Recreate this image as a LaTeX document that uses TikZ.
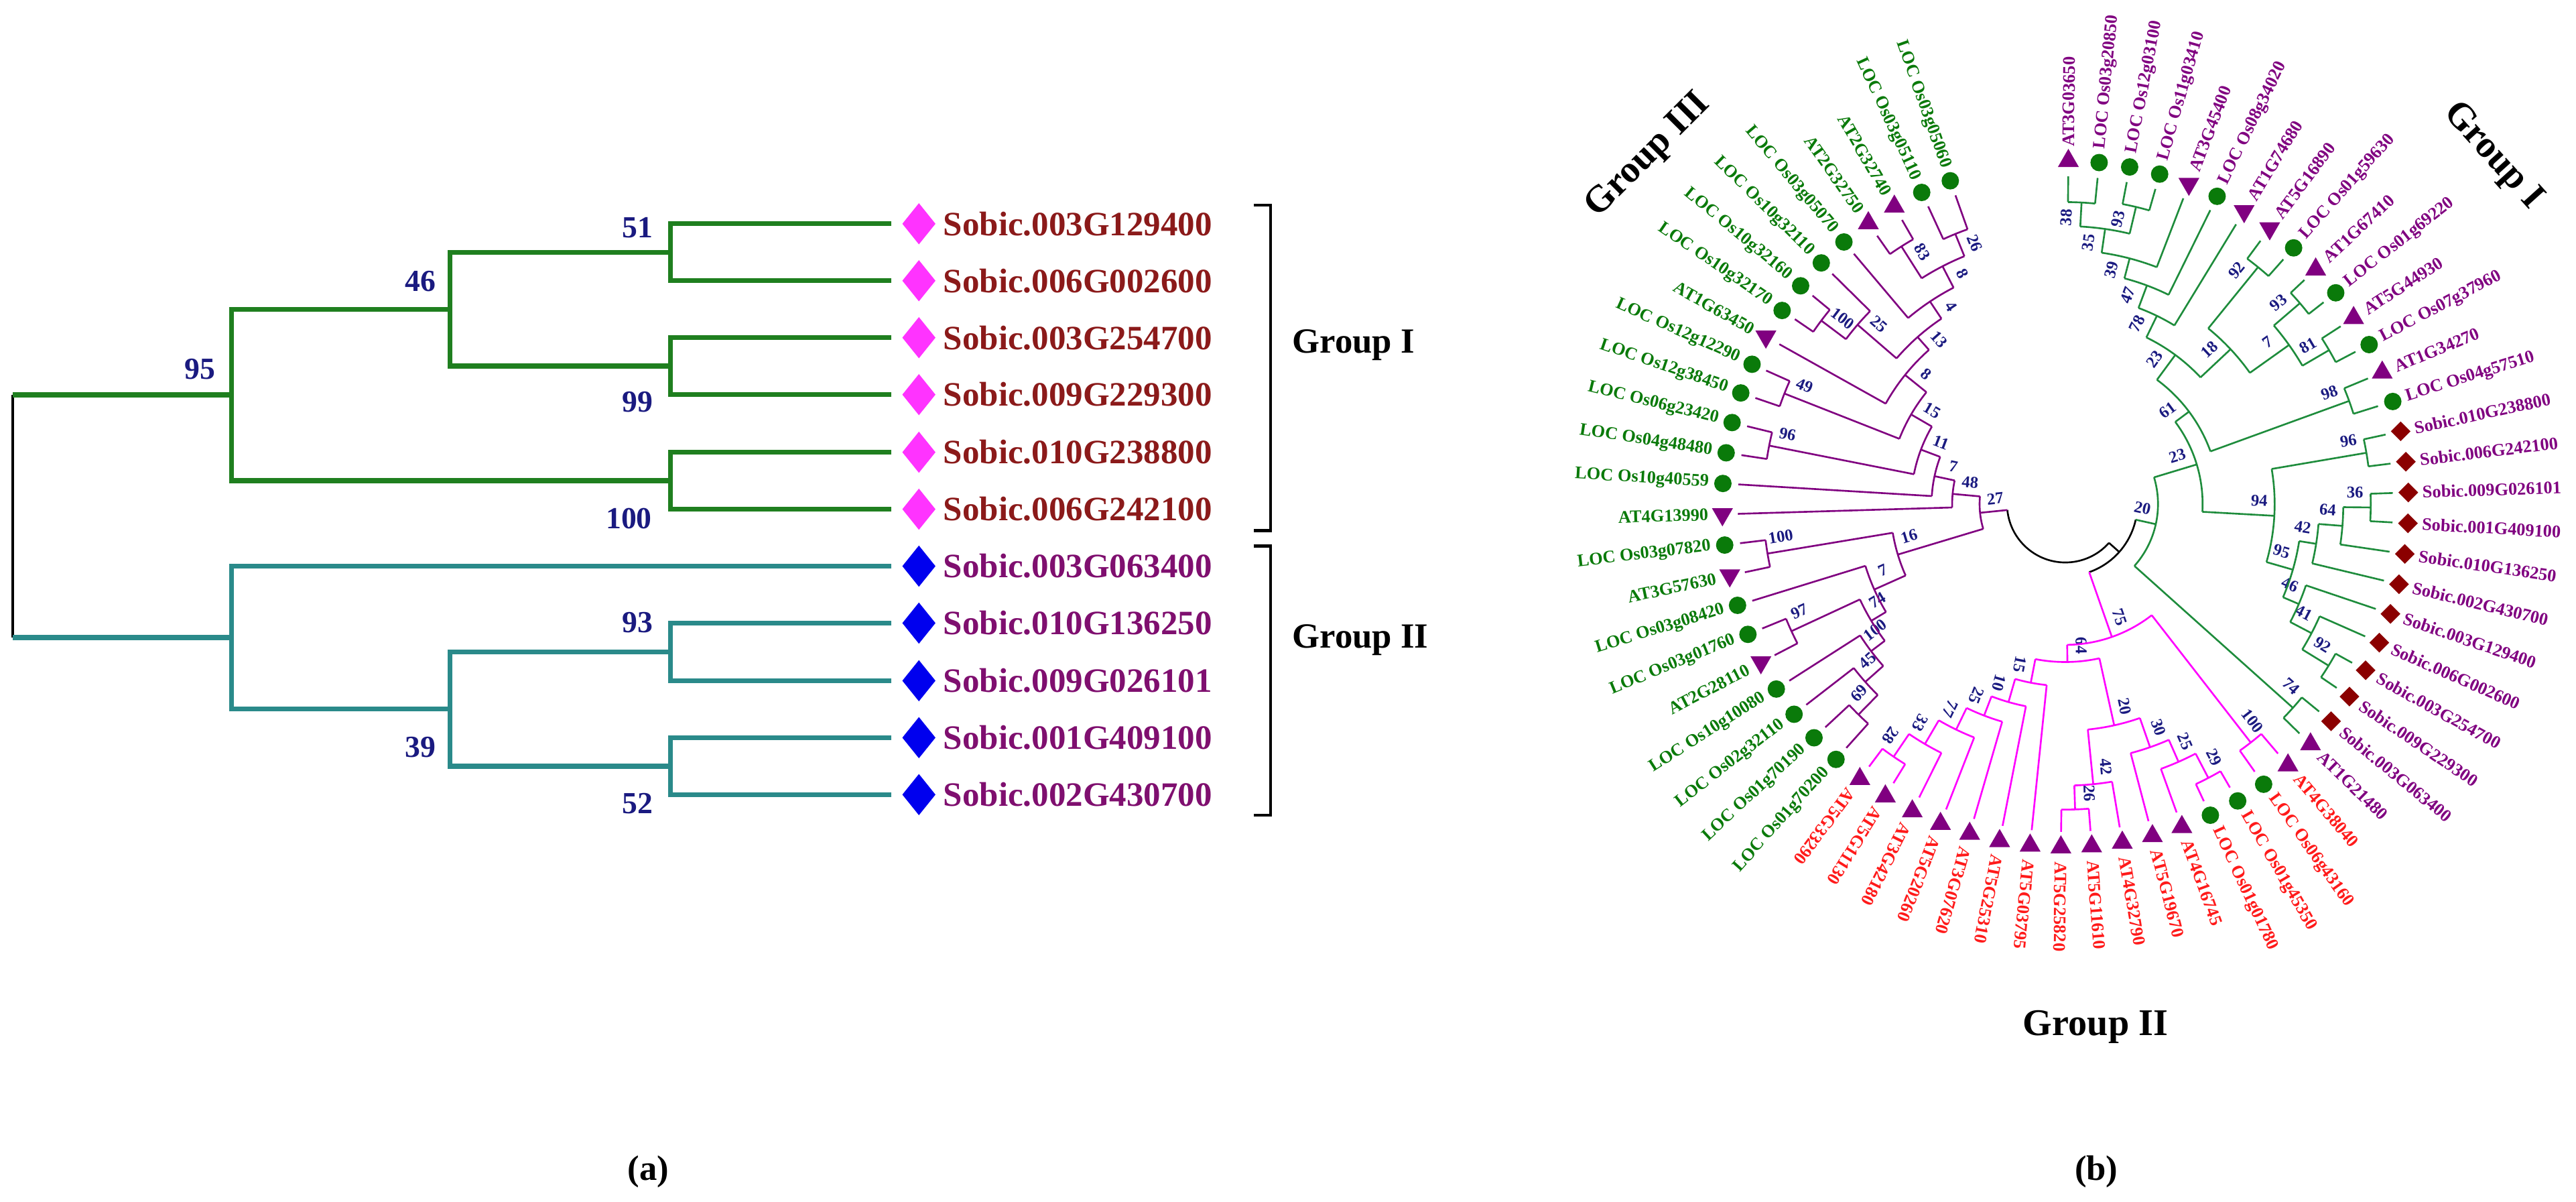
\documentclass[tikz,border=0pt]{standalone}
\usepackage{fontspec}
\setmainfont{Liberation Serif}
\usetikzlibrary{shapes.geometric}
\definecolor{agreen}{HTML}{1F7F1F}
\definecolor{ateal}{HTML}{2A8A8A}
\definecolor{amag}{HTML}{FF33FF}
\definecolor{ablue}{HTML}{0000EE}
\definecolor{alabA}{HTML}{8B1A1A}
\definecolor{alabB}{HTML}{7F0F6F}
\definecolor{bnavy}{HTML}{1A1A80}
\definecolor{grn}{HTML}{0A7A0A}
\definecolor{grnl}{HTML}{1E8C3C}
\definecolor{pur}{HTML}{800080}
\definecolor{pnk}{HTML}{FF00FF}
\definecolor{rd}{HTML}{FF1A1A}
\definecolor{dred}{HTML}{8B0000}
\tikzset{
 athick/.style={line width=2.1pt},
 agr/.style={athick,draw=agreen},
 atl/.style={athick,draw=ateal},
 ablk/.style={line width=1pt,draw=black},
 adia/.style={diamond,inner sep=0pt,minimum width=0.5cm,minimum height=0.62cm},
 alab/.style={font=\bfseries\fontsize{14.5}{15}\selectfont,anchor=west,inner sep=0pt},
 abs/.style={font=\bfseries\fontsize{13}{14}\selectfont,text=bnavy,inner sep=0pt},
 grp/.style={font=\bfseries\fontsize{15}{16}\selectfont,inner sep=0pt},
 bgrp/.style={font=\bfseries\fontsize{16}{17}\selectfont,inner sep=0pt},
 bracket/.style={line width=1.2pt,draw=black},
 gb/.style={line width=0.75pt,draw=grnl},
 pu/.style={line width=0.75pt,draw=pur},
 pk/.style={line width=0.75pt,draw=pnk},
 blk/.style={line width=0.75pt,draw=black},
 cir/.style={circle,fill=grn,inner sep=0pt,minimum size=0.26cm},
 tru/.style={regular polygon,regular polygon sides=3,fill=pur,inner sep=0pt,minimum size=0.36cm},
 trd/.style={tru,shape border rotate=180},
 dia/.style={diamond,fill=dred,inner sep=0pt,minimum size=0.3cm},
 lbl/.style={font=\bfseries\fontsize{7.5}{8}\selectfont,inner sep=0pt},
 bsl/.style={font=\bfseries\fontsize{7}{7}\selectfont,text=bnavy,inner sep=0pt},
}
\newcommand\TLeaf[5]{%
  \coordinate (#1e) at (#2:0.955);
  \node[#3] (#1) at (#2:1) {};
  \pgfmathtruncatemacro\lfflip{(#2 < -129)?1:0}%
  \ifnum\lfflip=1
    \node[lbl,text=#4,anchor=east,rotate=#2+180] (#1t) at (#2:1.04) {#5};
  \else
    \node[lbl,text=#4,anchor=west,rotate=#2] (#1t) at (#2:1.04) {#5};
  \fi}
\newcommand\TNode[9]{%
  \coordinate (#1) at (#2:#3);
  \draw[#4] (#5:#3) arc[start angle=#5,end angle=#6,radius=#3];
  \draw[#4] (#5:#3) -- (#7);
  \draw[#4] (#6:#3) -- (#8);
  \pgfmathsetmacro\bsd{2.58/#3}%
  \pgfmathsetmacro\bsa{((#2 > -90) && (#2 < 90))?(#2+\bsd):(#2-\bsd)}%
  \pgfmathsetmacro\bsr{#3-0.045}%
  \pgfmathsetmacro\bsrot{(#2 < -129)?(#2+180):(#2)}%
  \node[bsl,rotate=\bsrot] (#1b) at (\bsa:\bsr) {#9};}
\begin{document}
\begin{tikzpicture}
\useasboundingbox (0,0) rectangle (38.44,-17.93);
% ================= (a) =================
\begin{scope}[x=0.01cm,y=-0.01cm]
\coordinate (aR1) at (19,589.5);
\coordinate (aR2) at (19,951.6);
\coordinate (a95) at (346,589.5);
\coordinate (a46) at (672,461.5);
\coordinate (a51) at (1001,376.5);
\coordinate (a99) at (1001,546.5);
\coordinate (a100) at (1001,717.5);
\coordinate (aB) at (346,951.6);
\coordinate (a39) at (672,1058.25);
\coordinate (a93) at (1001,973);
\coordinate (a52) at (1001,1143.5);
\foreach \i/\y in {0/334,1/419,2/504,3/589,4/675,5/760,6/845,7/930,8/1016,9/1101,10/1186}
  \coordinate (at\i) at (1331,\y);
\draw[ablk] (aR1) -- (aR2);
\draw[agr] (aR1) -- (a95);
\draw[atl] (aR2) -- (aB);
\draw[agr] (a95) |- (a46);
\draw[agr] (a95) |- (a100);
\draw[agr] (a46) |- (a51);
\draw[agr] (a46) |- (a99);
\draw[agr] (a51) |- (at0);
\draw[agr] (a51) |- (at1);
\draw[agr] (a99) |- (at2);
\draw[agr] (a99) |- (at3);
\draw[agr] (a100) |- (at4);
\draw[agr] (a100) |- (at5);
\draw[atl] (aB) |- (at6);
\draw[atl] (aB) |- (a39);
\draw[atl] (a39) |- (a93);
\draw[atl] (a39) |- (a52);
\draw[atl] (a93) |- (at7);
\draw[atl] (a93) |- (at8);
\draw[atl] (a52) |- (at9);
\draw[atl] (a52) |- (at10);
\foreach \i/\y/\t in {0/334/Sobic.003G129400,1/419/Sobic.006G002600,2/504/Sobic.003G254700,3/589/Sobic.009G229300,4/675/Sobic.010G238800,5/760/Sobic.006G242100}{
  \node[adia,fill=amag] (ad\i) at (1372,\y) {};
  \node[alab,text=alabA] (al\i) at (1408,\y) {\t};}
\foreach \i/\y/\t in {6/845/Sobic.003G063400,7/930/Sobic.010G136250,8/1016/Sobic.009G026101,9/1101/Sobic.001G409100,10/1186/Sobic.002G430700}{
  \node[adia,fill=ablue] (ad\i) at (1372,\y) {};
  \node[alab,text=alabB] (al\i) at (1408,\y) {\t};}
\node[abs] (ab51) at (952,340) {51};
\node[abs] (ab46) at (628,420) {46};
\node[abs] (ab95) at (299,551) {95};
\node[abs] (ab99) at (952,600) {99};
\node[abs] (ab100) at (939,774) {100};
\node[abs] (ab93) at (952,929) {93};
\node[abs] (ab39) at (628,1115) {39};
\node[abs] (ab52) at (952,1199) {52};
\draw[bracket] (1872,306) -- (1897,306) -- (1897,792) -- (1872,792);
\draw[bracket] (1872,815) -- (1897,815) -- (1897,1217) -- (1872,1217);
\node[grp,anchor=west] (agI) at (1929,515) {Group I};
\node[grp,anchor=west] (agII) at (1929,955) {Group II};
\node[grp] (capa) at (968,1749) {(a)};
\node[grp] (capb) at (3130,1749) {(b)};
\end{scope}
% ================= (b) =================
\begin{scope}[shift={(30.82,-7.52)},x=5.12cm,y=5.12cm]
% ---- leaves ----
\TLeaf{l1}{89.5}{tru}{pur}{AT3G03650}
\TLeaf{l2}{84.35}{cir}{pur}{LOC Os03g20850}
\TLeaf{l3}{79.2}{cir}{pur}{LOC Os12g03100}
\TLeaf{l4}{74.05}{cir}{pur}{LOC Os11g03410}
\TLeaf{l5}{68.9}{trd}{pur}{AT3G45400}
\TLeaf{l6}{63.75}{cir}{pur}{LOC Os08g34020}
\TLeaf{l7}{58.6}{trd}{pur}{AT1G74680}
\TLeaf{l8}{53.45}{trd}{pur}{AT5G16890}
\TLeaf{l9}{48.3}{cir}{pur}{LOC Os01g59630}
\TLeaf{l10}{43.15}{tru}{pur}{AT1G67410}
\TLeaf{l11}{38.0}{cir}{pur}{LOC Os01g69220}
\TLeaf{l12}{32.85}{tru}{pur}{AT5G44930}
\TLeaf{l13}{27.7}{cir}{pur}{LOC Os07g37960}
\TLeaf{l14}{22.55}{tru}{pur}{AT1G34270}
\TLeaf{l15}{17.4}{cir}{pur}{LOC Os04g57510}
\TLeaf{l16}{12.25}{dia}{pur}{Sobic.010G238800}
\TLeaf{l17}{7.1}{dia}{pur}{Sobic.006G242100}
\TLeaf{l18}{1.95}{dia}{pur}{Sobic.009G026101}
\TLeaf{l19}{-3.2}{dia}{pur}{Sobic.001G409100}
\TLeaf{l20}{-8.35}{dia}{pur}{Sobic.010G136250}
\TLeaf{l21}{-13.5}{dia}{pur}{Sobic.002G430700}
\TLeaf{l22}{-18.65}{dia}{pur}{Sobic.003G129400}
\TLeaf{l23}{-23.8}{dia}{pur}{Sobic.006G002600}
\TLeaf{l24}{-28.95}{dia}{pur}{Sobic.003G254700}
\TLeaf{l25}{-34.1}{dia}{pur}{Sobic.009G229300}
\TLeaf{l26}{-39.25}{dia}{pur}{Sobic.003G063400}
\TLeaf{l27}{-44.4}{tru}{pur}{AT1G21480}
\TLeaf{l28}{-49.55}{tru}{rd}{AT4G38040}
\TLeaf{l29}{-54.7}{cir}{rd}{LOC Os06g43160}
\TLeaf{l30}{-59.85}{cir}{rd}{LOC Os01g45350}
\TLeaf{l31}{-65.0}{cir}{rd}{LOC Os01g01780}
\TLeaf{l32}{-70.15}{tru}{rd}{AT4G16745}
\TLeaf{l33}{-75.3}{tru}{rd}{AT5G19670}
\TLeaf{l34}{-80.45}{tru}{rd}{AT4G32790}
\TLeaf{l35}{-85.6}{tru}{rd}{AT5G11610}
\TLeaf{l36}{-90.75}{tru}{rd}{AT5G25820}
\TLeaf{l37}{-95.9}{tru}{rd}{AT5G03795}
\TLeaf{l38}{-101.05}{tru}{rd}{AT5G25310}
\TLeaf{l39}{-106.2}{tru}{rd}{AT3G07620}
\TLeaf{l40}{-111.35}{tru}{rd}{AT5G20260}
\TLeaf{l41}{-116.5}{tru}{rd}{AT3G42180}
\TLeaf{l42}{-121.65}{tru}{rd}{AT5G11130}
\TLeaf{l43}{-126.8}{tru}{rd}{AT5G33290}
\TLeaf{l44}{-131.95}{cir}{grn}{LOC Os01g70200}
\TLeaf{l45}{-137.1}{cir}{grn}{LOC Os01g70190}
\TLeaf{l46}{-142.25}{cir}{grn}{LOC Os02g32110}
\TLeaf{l47}{-147.4}{cir}{grn}{LOC Os10g10080}
\TLeaf{l48}{-152.55}{trd}{grn}{AT2G28110}
\TLeaf{l49}{-157.7}{cir}{grn}{LOC Os03g01760}
\TLeaf{l50}{-162.85}{cir}{grn}{LOC Os03g08420}
\TLeaf{l51}{-168.0}{trd}{grn}{AT3G57630}
\TLeaf{l52}{-173.15}{cir}{grn}{LOC Os03g07820}
\TLeaf{l53}{-178.3}{trd}{grn}{AT4G13990}
\TLeaf{l54}{-183.45}{cir}{grn}{LOC Os10g40559}
\TLeaf{l55}{-188.6}{cir}{grn}{LOC Os04g48480}
\TLeaf{l56}{-193.75}{cir}{grn}{LOC Os06g23420}
\TLeaf{l57}{-198.9}{cir}{grn}{LOC Os12g38450}
\TLeaf{l58}{-204.05}{cir}{grn}{LOC Os12g12290}
\TLeaf{l59}{-209.2}{trd}{grn}{AT1G63450}
\TLeaf{l60}{-214.35}{cir}{grn}{LOC Os10g32170}
\TLeaf{l61}{-219.5}{cir}{grn}{LOC Os10g32160}
\TLeaf{l62}{-224.65}{cir}{grn}{LOC Os10g32110}
\TLeaf{l63}{-229.8}{cir}{grn}{LOC Os03g05070}
\TLeaf{l64}{-234.95}{tru}{grn}{AT2G32750}
\TLeaf{l65}{-240.1}{tru}{grn}{AT2G32740}
\TLeaf{l66}{-245.25}{cir}{grn}{LOC Os03g05110}
\TLeaf{l67}{-250.4}{cir}{grn}{LOC Os03g05060}
% ---- Group I clade ----
\TNode{n38}{86.925}{.88}{gb}{89.5}{84.35}{l1e}{l2e}{38}
\TNode{n93a}{76.625}{.89}{gb}{79.2}{74.05}{l3e}{l4e}{93}
\TNode{n35}{81.775}{.81}{gb}{86.925}{76.625}{n38}{n93a}{35}
\TNode{n39}{75.3375}{.74}{gb}{81.775}{68.9}{n35}{l5e}{39}
\TNode{n47}{69.54}{.68}{gb}{75.3375}{63.75}{n39}{l6e}{47}
\TNode{n78}{64.07}{.61}{gb}{69.54}{58.6}{n47}{l7e}{78}
\TNode{n92}{50.875}{.89}{gb}{53.45}{48.3}{l8e}{l9e}{92}
\TNode{n93b}{40.575}{.90}{gb}{43.15}{38.0}{l10e}{l11e}{93}
\TNode{n81}{30.275}{.89}{gb}{32.85}{27.7}{l12e}{l13e}{81}
\TNode{n7}{35.425}{.80}{gb}{40.575}{30.275}{n93b}{n81}{7}
\TNode{n18}{43.15}{.66}{gb}{50.875}{35.425}{n92}{n7}{18}
\TNode{n23u}{53.61}{.54}{gb}{64.07}{43.15}{n78}{n18}{23}
\TNode{n98}{19.975}{.88}{gb}{22.55}{17.4}{l14e}{l15e}{98}
\TNode{n61}{36.79}{.45}{gb}{53.61}{19.975}{n23u}{n98}{61}
\TNode{n96}{9.675}{.89}{gb}{12.25}{7.1}{l16e}{l17e}{96}
\TNode{n36}{-0.625}{.89}{gb}{1.95}{-3.2}{l18e}{l19e}{36}
\TNode{n64}{-4.49}{.81}{gb}{-0.625}{-8.35}{n36}{l20e}{64}
\TNode{n42}{-8.99}{.74}{gb}{-4.49}{-13.5}{n64}{l21e}{42}
\TNode{n92b}{-31.525}{.90}{gb}{-28.95}{-34.1}{l24e}{l25e}{92}
\TNode{n41}{-27.66}{.81}{gb}{-23.8}{-31.525}{l23e}{n92b}{41}
\TNode{n46}{-23.16}{.74}{gb}{-18.65}{-27.66}{l22e}{n41}{46}
\TNode{n95}{-16.07}{.69}{gb}{-8.99}{-23.16}{n42}{n46}{95}
\TNode{n94}{-3.2}{.61}{gb}{9.675}{-16.07}{n96}{n95}{94}
\TNode{n23l}{16.8}{.40}{gb}{36.79}{-3.2}{n61}{n94}{23}
\TNode{n74}{-41.825}{.89}{gb}{-39.25}{-44.4}{l26e}{l27e}{74}
\TNode{n20}{-12.5}{.27}{gb}{16.8}{-41.825}{n23l}{n74}{20}
% ---- Group II clade ----
\TNode{n100p}{-52.125}{.88}{pk}{-49.55}{-54.7}{l28e}{l29e}{100}
\TNode{n29}{-62.425}{.90}{pk}{-59.85}{-65.0}{l30e}{l31e}{29}
\TNode{n25q}{-66.29}{.82}{pk}{-62.425}{-70.15}{n29}{l32e}{25}
\TNode{n30}{-70.79}{.75}{pk}{-66.29}{-75.3}{n25q}{l33e}{30}
\TNode{n26}{-88.175}{.89}{pk}{-85.6}{-90.75}{l35e}{l36e}{26}
\TNode{n42p}{-84.31}{.82}{pk}{-80.45}{-88.175}{l34e}{n26}{42}
\TNode{n20p}{-77.55}{.66}{pk}{-70.79}{-84.31}{n30}{n42p}{20}
\TNode{n28}{-124.225}{.89}{pk}{-121.65}{-126.8}{l42e}{l43e}{28}
\TNode{n33}{-120.36}{.81}{pk}{-116.5}{-124.225}{l41e}{n28}{33}
\TNode{n77}{-115.86}{.73}{pk}{-111.35}{-120.36}{l40e}{n33}{77}
\TNode{n25p}{-111.03}{.66}{pk}{-106.2}{-115.86}{l39e}{n77}{25}
\TNode{n10}{-106.04}{.60}{pk}{-101.05}{-111.03}{l38e}{n25p}{10}
\TNode{n15p}{-100.97}{.53}{pk}{-95.9}{-106.04}{l37e}{n10}{15}
\TNode{n64p}{-89.26}{.46}{pk}{-77.55}{-100.97}{n20p}{n15p}{64}
\TNode{n75}{-70.69}{.41}{pk}{-52.125}{-89.26}{n100p}{n64p}{75}
% ---- Group III clade ----
\TNode{n69}{-134.525}{.86}{pu}{-131.95}{-137.1}{l44e}{l45e}{69}
\TNode{n45}{-138.39}{.78}{pu}{-134.525}{-142.25}{n69}{l46e}{45}
\TNode{n100g}{-142.89}{.71}{pu}{-138.39}{-147.4}{n45}{l47e}{100}
\TNode{n97}{-155.125}{.88}{pu}{-152.55}{-157.7}{l48e}{l49e}{97}
\TNode{n74g}{-149.0}{.66}{pu}{-142.89}{-155.125}{n100g}{n97}{74}
\TNode{n7g}{-155.93}{.61}{pu}{-149.0}{-162.85}{n74g}{l50e}{7}
\TNode{n100b}{-170.575}{.88}{pu}{-168.0}{-173.15}{l51e}{l52e}{100}
\TNode{n16}{-163.25}{.51}{pu}{-155.93}{-170.575}{n7g}{n100b}{16}
\TNode{n26g}{-247.825}{.85}{pu}{-245.25}{-250.4}{l66e}{l67e}{26}
\TNode{n83}{-237.525}{.89}{pu}{-234.95}{-240.1}{l64e}{l65e}{83}
\TNode{n8t}{-242.675}{.78}{pu}{-237.525}{-247.825}{n83}{n26g}{8}
\TNode{n4}{-236.24}{.71}{pu}{-229.8}{-242.675}{l63e}{n8t}{4}
\TNode{n100c}{-216.925}{.89}{pu}{-214.35}{-219.5}{l60e}{l61e}{100}
\TNode{n25g}{-220.79}{.80}{pu}{-216.925}{-224.65}{n100c}{l62e}{25}
\TNode{n13}{-228.5}{.65}{pu}{-220.79}{-236.24}{n25g}{n4}{13}
\TNode{n8m}{-218.85}{.60}{pu}{-209.2}{-228.5}{l59e}{n13}{8}
\TNode{n49}{-201.475}{.88}{pu}{-198.9}{-204.05}{l57e}{l58e}{49}
\TNode{n15g}{-210.16}{.52}{pu}{-201.475}{-218.85}{n49}{n8m}{15}
\TNode{n96g}{-191.175}{.88}{pu}{-188.6}{-193.75}{l55e}{l56e}{96}
\TNode{n11}{-200.67}{.45}{pu}{-191.175}{-210.16}{n96g}{n15g}{11}
\TNode{n7u}{-192.06}{.39}{pu}{-183.45}{-200.67}{l54e}{n11}{7}
\TNode{n48}{-185.18}{.33}{pu}{-178.3}{-192.06}{l53e}{n7u}{48}
\TNode{n27}{-174.2}{.25}{pu}{-163.25}{-185.18}{n16}{n48}{27}
% ---- root ----
\coordinate (nX) at (-41.6:.21);
\draw[blk] (-12.5:.21) arc[start angle=-12.5,end angle=-70.69,radius=.21];
\draw[gb] (-12.5:.21) -- (n20);
\draw[pk] (-70.69:.21) -- (n75);
\draw[blk] (-174.2:.17) arc[start angle=-174.2,end angle=-41.6,radius=.17];
\draw[blk] (-41.6:.17) -- (nX);
\draw[pu] (-174.2:.17) -- (n27);
\end{scope}
\node[bgrp,rotate=45] (gIII) at (24.6,-2.32) {Group III};
\node[bgrp,rotate=-48] (gIb) at (37.2,-2.33) {Group I};
\node[bgrp] (gIIb) at (31.27,-15.32) {Group II};
\end{tikzpicture}
\end{document}
